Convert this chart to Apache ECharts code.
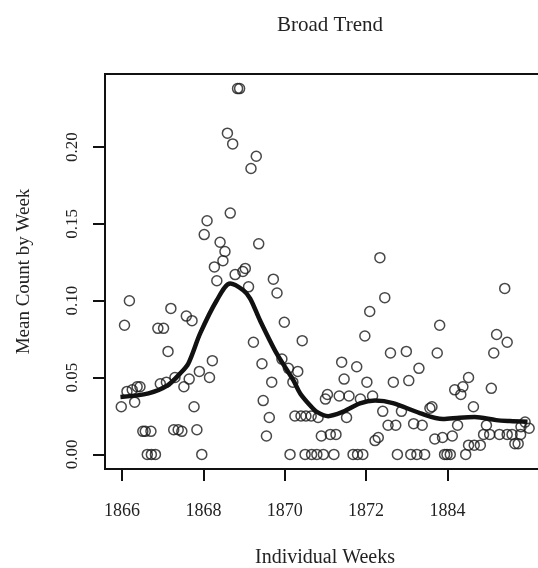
<!DOCTYPE html>
<html>
<head>
<meta charset="utf-8">
<script src="https://cdn.jsdelivr.net/npm/echarts@6/dist/echarts.min.js"></script>
<style>
  html, body { margin: 0; padding: 0; background: #fff; }
  #chart { width: 538px; height: 568px; }
</style>
</head>
<body>
<div id="chart"></div>
<script>
// week position (in axis units) and mean count for each week
const weekX = [
  1866.18, 1866.06, 1867.20, 1867.58, 1867.72, 1866.88, 1867.02, 1867.13, 1868.22, 1867.90,
  1868.15, 1867.65, 1867.52, 1867.30, 1867.09, 1866.94, 1866.44, 1866.37, 1866.25, 1866.12,
  1866.31, 1865.98, 1867.77, 1866.51, 1866.57, 1866.71, 1867.27, 1867.38, 1867.47, 1867.84,
  1866.62, 1866.72, 1866.82, 1867.96,
  1868.84, 1868.89, 1868.59, 1868.72, 1869.30, 1869.17, 1868.66, 1868.09, 1868.02, 1868.41,
  1868.53, 1869.36, 1868.48, 1868.27, 1869.03, 1868.97, 1868.78, 1868.33, 1869.72, 1869.11,
  1869.81, 1869.99, 1870.43, 1869.23, 1869.44, 1869.93, 1870.09, 1870.32, 1870.20, 1869.68,
  1869.47, 1869.62, 1869.55, 1870.25, 1870.40, 1870.52, 1870.65, 1870.82, 1870.13, 1870.50,
  1870.66, 1870.79, 1870.95, 1871.21, 1870.90, 1871.12, 1871.26,
  1872.46, 1872.34, 1872.09, 1871.97, 1872.60, 1871.40, 1871.77, 1871.46, 1872.02, 1872.67,
  1871.05, 1871.00, 1871.34, 1871.58, 1871.86, 1872.16, 1871.52, 1872.41, 1872.87, 1872.54,
  1872.73, 1872.22, 1872.30, 1871.68, 1871.79, 1871.92, 1872.77,
  1872.99, 1873.75, 1873.81, 1873.30, 1873.05, 1874.52, 1874.38, 1874.18, 1874.33, 1875.08,
  1875.41, 1875.21, 1875.47, 1875.14, 1873.57, 1873.62, 1874.64, 1873.17, 1873.38, 1874.25,
  1874.96, 1875.91, 1876.01, 1875.81, 1873.69, 1873.88, 1874.12, 1874.89, 1875.04, 1875.28,
  1875.47, 1875.59, 1875.80, 1874.52, 1874.66, 1874.81, 1875.66, 1875.74, 1873.10, 1873.25,
  1873.44, 1873.93, 1873.99, 1874.07, 1874.45
];
const meanY = [
  0.100, 0.084, 0.095, 0.090, 0.087, 0.082, 0.082, 0.067, 0.061, 0.054,
  0.050, 0.049, 0.044, 0.050, 0.047, 0.046, 0.044, 0.044, 0.042, 0.041,
  0.034, 0.031, 0.031, 0.015, 0.015, 0.015, 0.016, 0.016, 0.015, 0.016,
  0.000, 0.000, 0.000, 0.000,
  0.238, 0.238, 0.209, 0.202, 0.194, 0.186, 0.157, 0.152, 0.143, 0.138,
  0.132, 0.137, 0.126, 0.122, 0.121, 0.119, 0.117, 0.113, 0.114, 0.109,
  0.105, 0.086, 0.074, 0.073, 0.059, 0.062, 0.056, 0.054, 0.047, 0.047,
  0.035, 0.024, 0.012, 0.025, 0.025, 0.025, 0.025, 0.024, 0.000, 0.000,
  0.000, 0.000, 0.000, 0.000, 0.012, 0.013, 0.013,
  0.102, 0.128, 0.093, 0.077, 0.066, 0.060, 0.057, 0.049, 0.047, 0.047,
  0.039, 0.036, 0.038, 0.038, 0.036, 0.038, 0.024, 0.028, 0.028, 0.019,
  0.019, 0.009, 0.011, 0.000, 0.000, 0.000, 0.000,
  0.067, 0.066, 0.084, 0.056, 0.048, 0.050, 0.044, 0.042, 0.039, 0.043,
  0.108, 0.078, 0.073, 0.066, 0.030, 0.031, 0.031, 0.020, 0.019, 0.019,
  0.019, 0.021, 0.017, 0.018, 0.010, 0.011, 0.012, 0.013, 0.013, 0.013,
  0.013, 0.013, 0.013, 0.006, 0.006, 0.006, 0.007, 0.007, 0.000, 0.000,
  0.000, 0.000, 0.000, 0.000, 0.000
];

// smoothed trend line
const trendX = [1865.96, 1866.65, 1867.11, 1867.43, 1867.63, 1867.92, 1868.33, 1868.66, 1868.98, 1869.15,
  1869.39, 1869.80, 1870.21, 1870.38, 1870.62, 1870.79, 1871.07, 1871.44, 1871.85, 1872.22,
  1872.66, 1873.32, 1873.89, 1874.30, 1874.67, 1875.20, 1875.53, 1875.97];
const trendY = [0.0373, 0.0397, 0.0447, 0.0527, 0.0592, 0.0787, 0.1003, 0.1112, 0.1068, 0.1014,
  0.0873, 0.0657, 0.0483, 0.0397, 0.0320, 0.0277, 0.0249, 0.0278, 0.0332, 0.0350,
  0.0334, 0.0269, 0.0230, 0.0239, 0.0243, 0.0223, 0.0217, 0.0212];

const xTicks = [1866, 1868, 1870, 1872, 1874];
const xTickLabels = ['1866', '1868', '1870', '1872', '1884'];
const yTicks = [0, 0.05, 0.10, 0.15, 0.20];

const FONT = 'Liberation Serif';
const TXT = '#222';

const points = weekX.map((x, i) => [x, meanY[i]]);
const trend = trendX.map((x, i) => [x, trendY[i]]);

const chart = echarts.init(document.getElementById('chart'));
chart.setOption({
  animation: false,
  backgroundColor: '#fff',
  title: {
    text: 'Broad Trend',
    left: 325,
    top: 10,
    textAlign: 'center',
    textStyle: { fontFamily: FONT, fontSize: 21, fontWeight: 'normal', color: TXT }
  },
  grid: {
    left: 105, top: 74, right: -7, bottom: 99,
    containLabel: false,
    outerBoundsMode: 'none',
    show: true, borderColor: '#111', borderWidth: 2
  },
  xAxis: {
    type: 'value',
    min: 1865.58,
    max: 1876.4,
    name: 'Individual Weeks',
    nameLocation: 'middle',
    nameGap: 79,
    nameTextStyle: { fontFamily: FONT, fontSize: 20, color: TXT },
    axisLine: { show: true, onZero: false, lineStyle: { color: '#111', width: 2 } },
    axisTick: { show: true, inside: false, length: 12, customValues: xTicks, lineStyle: { color: '#111', width: 2 } },
    axisLabel: {
      customValues: xTicks,
      margin: 33,
      fontFamily: FONT, fontSize: 18, color: TXT,
      formatter: v => xTickLabels[xTicks.indexOf(v)]
    },
    splitLine: { show: false }
  },
  yAxis: {
    type: 'value',
    min: -0.0095,
    max: 0.2475,
    name: 'Mean Count by Week',
    nameLocation: 'middle',
    nameGap: 71,
    nameTextStyle: { fontFamily: FONT, fontSize: 19, color: TXT },
    axisLine: { show: true, onZero: false, lineStyle: { color: '#111', width: 2 } },
    axisTick: { show: true, inside: false, length: 12, customValues: yTicks, lineStyle: { color: '#111', width: 2 } },
    axisLabel: {
      customValues: yTicks,
      rotate: 90,
      margin: 24,
      fontFamily: FONT, fontSize: 17, color: TXT,
      formatter: v => v.toFixed(2)
    },
    splitLine: { show: false }
  },
  series: [
    {
      type: 'scatter',
      data: points,
      symbol: 'circle',
      symbolSize: 10,
      itemStyle: { color: 'rgba(255,255,255,0)', borderColor: '#1a1a1a', borderWidth: 1.5 },
      z: 2
    },
    {
      type: 'line',
      data: trend,
      smooth: 0.3,
      showSymbol: false,
      lineStyle: { color: '#111', width: 4.5 },
      z: 3
    }
  ]
});
</script>
</body>
</html>
